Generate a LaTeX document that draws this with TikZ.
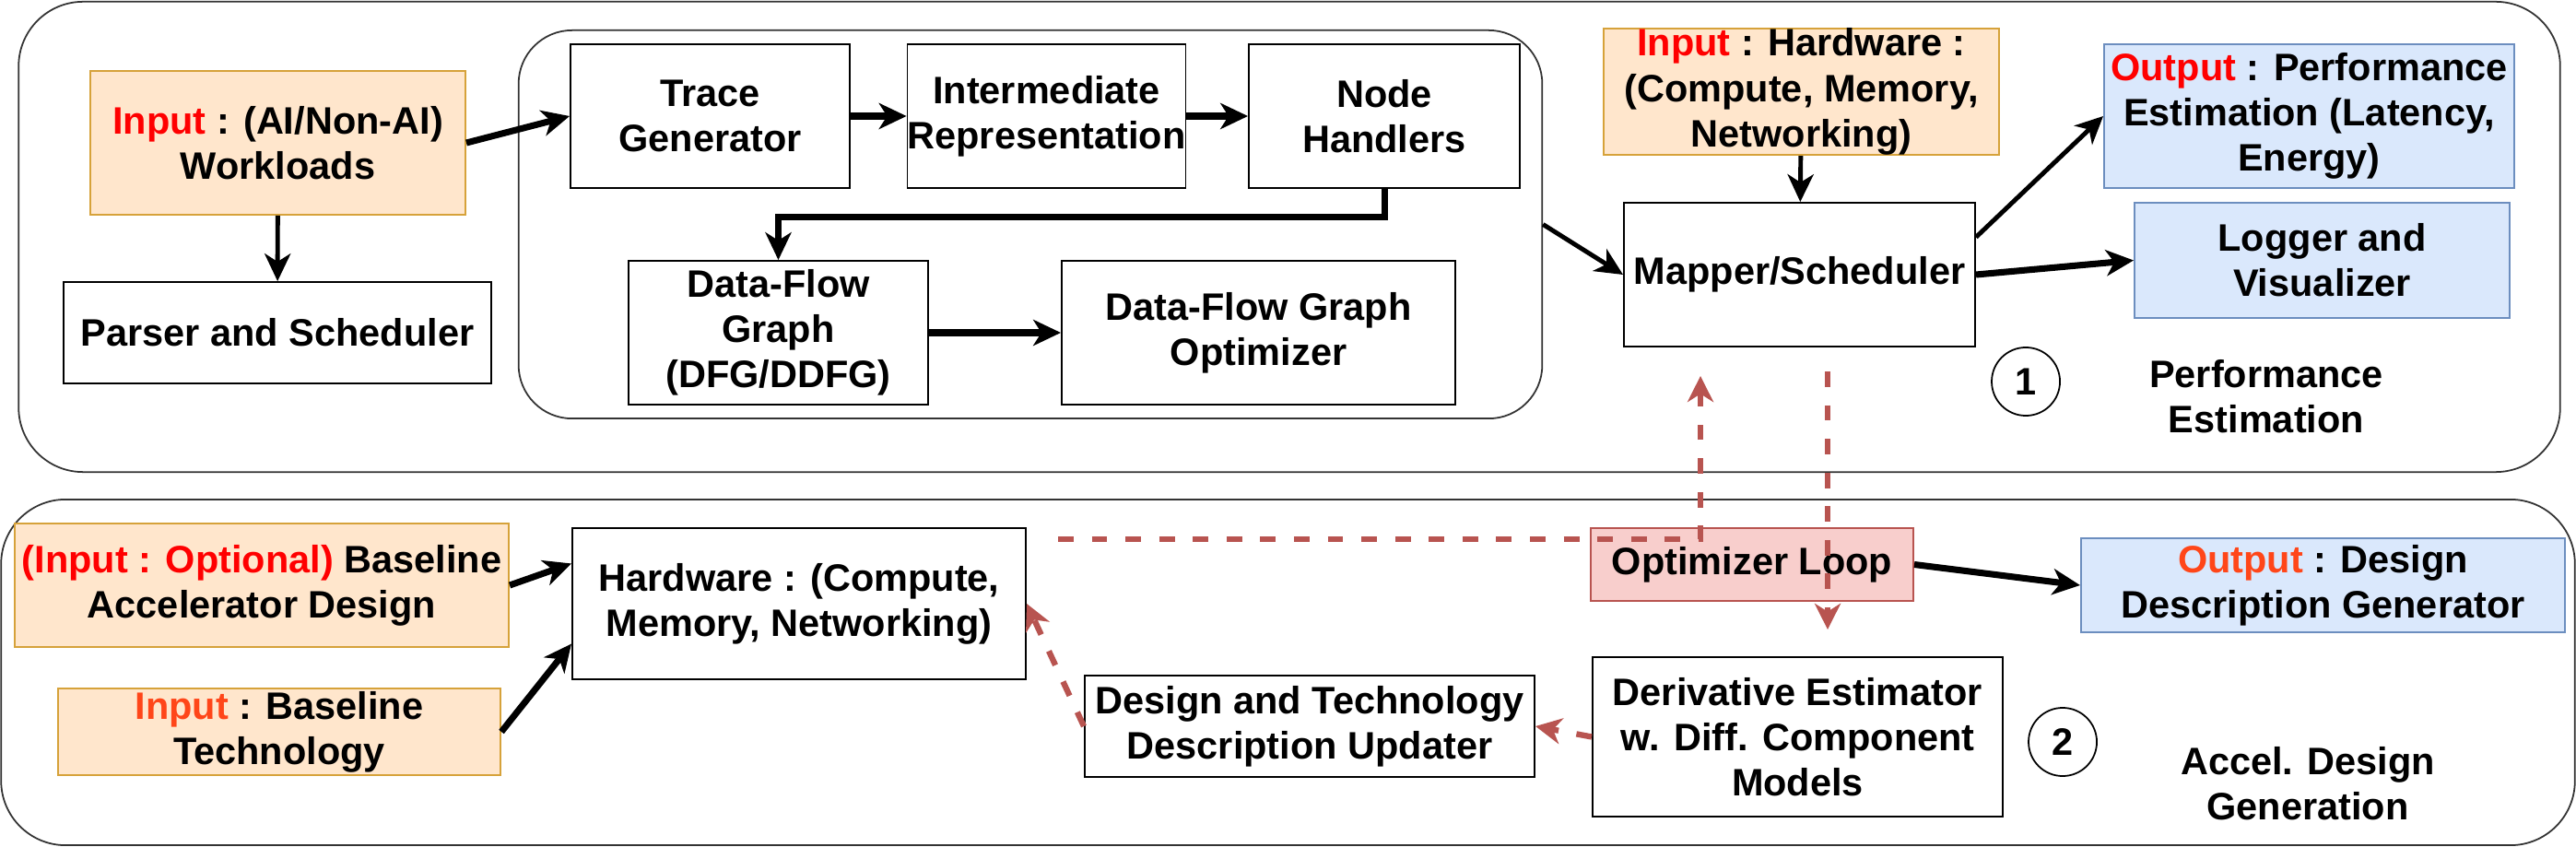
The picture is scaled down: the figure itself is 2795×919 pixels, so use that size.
\documentclass[tikz,border=0pt]{standalone}
\usepackage{fontspec}
\setmainfont{Liberation Sans}
\usepackage{tikz}
\usetikzlibrary{arrows.meta}

\definecolor{inputfill}{HTML}{FFE6CC}
\definecolor{inputline}{HTML}{D6A23A}
\definecolor{outputfill}{HTML}{DAE8FC}
\definecolor{outputline}{HTML}{6C8EBF}
\definecolor{loopfill}{HTML}{F8CECC}
\definecolor{loopline}{HTML}{B85450}
\definecolor{hotred}{HTML}{FF0000}
\definecolor{warmred}{HTML}{FF4619}

\begin{document}
\begin{tikzpicture}[x=0.01cm, y=-0.01cm, font=\bfseries\fontsize{11.8}{14}\selectfont]
        % Setup the style for the boxes
        \tikzset{box style/.style={draw=black,
                                   line width=0.5pt,
                                   fill=white,
                                   inner sep=0pt,
                                   align=center}}
        \tikzset{box style2/.style={box style,
                                    draw=inputline,
                                    fill=inputfill}}
        \tikzset{box style3/.style={box style,
                                    draw=outputline,
                                    fill=outputfill}}
        \tikzset{box style4/.style={box style,
                                    draw=loopline,
                                    fill=loopfill}}
        \tikzset{frame style/.style={draw=black!80,
                                     line width=0.5pt,
                                     rounded corners=0.7cm,
                                     inner sep=0pt}}
        \tikzset{num style/.style={circle,
                                   draw=black,
                                   line width=0.5pt,
                                   minimum size=0.74cm,
                                   inner sep=0pt}}
        \tikzset{flow tip/.style={-{Stealth[length=8.5pt, width=8pt, inset=2.5pt]}}}
        \tikzset{loop style/.style={draw=loopline,
                                    line width=1.8pt,
                                    dash pattern=on 4.8pt off 5.6pt,
                                    -{Stealth[length=8pt, width=8pt, inset=2.5pt]}}}

        \useasboundingbox (0, 0) rectangle (2795, 919);

        % Draw the frames
        \node[frame style, minimum width=27.56cm, minimum height=5.10cm] at (1399, 257) (perfframe) {};
        \node[frame style, minimum width=27.91cm, minimum height=3.75cm] at (1397.5, 729.5) (accelframe) {};
        \node[frame style, rounded corners=0.58cm, minimum width=11.10cm, minimum height=4.21cm] at (1118, 243.5) (core) {};

        % Draw the boxes
        \node[box style2, minimum width=4.07cm, minimum height=1.56cm] at (301.5, 155) (work) {{\color{hotred}Input} : (AI/Non-AI)\\Workloads};
        \node[box style, minimum width=4.64cm, minimum height=1.10cm] at (301, 361) (parser) {Parser and Scheduler};
        \node[box style, minimum width=3.03cm, minimum height=1.56cm] at (770.5, 126) (trace) {Trace\\Generator};
        \node[box style, minimum width=2.97cm, minimum height=1.56cm] at (1135.5, 126) (ir) {Intermediate\\Representation};
        \node[box style, minimum width=2.94cm, minimum height=1.56cm] at (1502, 126) (handlers) {Node\\Handlers};
        \node[box style, minimum width=3.25cm, minimum height=1.56cm] at (844.5, 361) (dfg) {Data-Flow\\Graph\\(DFG/DDFG)};
        \node[box style, minimum width=4.27cm, minimum height=1.56cm] at (1365.5, 361) (dfgopt) {Data-Flow Graph\\Optimizer};
        \node[box style2, minimum width=4.29cm, minimum height=1.35cm] at (1954.5, 99.5) (hwin) {{\color{hotred}Input} : Hardware :\\(Compute, Memory,\\Networking)};
        \node[box style, minimum width=3.81cm, minimum height=1.56cm] at (1952.5, 298) (mapper) {Mapper/Scheduler};
        \node[box style3, minimum width=4.45cm, minimum height=1.56cm] at (2505.5, 126) (perf) {{\color{hotred}Output} : Performance\\Estimation (Latency,\\Energy)};
        \node[box style3, minimum width=4.07cm, minimum height=1.25cm] at (2519.5, 282.5) (logger) {Logger and\\Visualizer};
        \node[num style] at (2198, 414) (one) {1};
        \node[align=center] at (2459, 430) (perflabel) {Performance\\Estimation};

        \node[box style2, minimum width=5.36cm, minimum height=1.34cm] at (284, 635) (accel) {{\color{hotred}(Input : Optional)} Baseline\\Accelerator Design};
        \node[box style2, minimum width=4.80cm, minimum height=0.94cm] at (303, 794) (tech) {{\color{warmred}Input} : Baseline\\Technology};
        \node[box style, minimum width=4.92cm, minimum height=1.64cm] at (867, 655) (hw) {Hardware : (Compute,\\Memory, Networking)};
        \node[box style, minimum width=4.88cm, minimum height=1.10cm] at (1421, 788) (updater) {Design and Technology\\Description Updater};
        \node[box style4, minimum width=3.50cm, minimum height=0.79cm] at (1901, 612.5) (optloop) {Optimizer Loop};
        \node[box style, minimum width=4.45cm, minimum height=1.73cm] at (1950.5, 799.5) (deriv) {Derivative Estimator\\w. Diff. Component\\Models};
        \node[box style3, minimum width=5.25cm, minimum height=1.02cm] at (2520.5, 635) (design) {{\color{warmred}Output} : Design\\Description Generator};
        \node[num style] at (2238, 805) (two) {2};
        \node[align=center] at (2504, 850) (accellabel) {Accel. Design\\Generation};

        % Connect the boxes with arrows
        \draw[line width=2pt,
              draw=black]
            (work.east)     edge[flow tip]            (trace.west)
            (trace)         edge[flow tip]            (ir)
            (ir)            edge[flow tip]            (handlers)
            (dfg)           edge[flow tip]            (dfgopt)
            (mapper.east)   edge[flow tip]            (logger.west)
            (accel.east)    edge[flow tip]            (hw.170)
            (tech.east)     edge[flow tip]            (hw.190)
            (optloop.east)  edge[flow tip]            (design.west);
        \draw[line width=1.4pt,
              draw=black]
            (work)          edge[flow tip]            (parser)
            (hwin)          edge[flow tip]            (mapper)
            (core.east)     edge[flow tip]            (mapper.west)
            (mapper.12)     edge[flow tip]            (perf.west);
        \draw[line width=2pt, flow tip]
            (handlers.south) -- ++(0, 31) -| (dfg.north);

        % Optimizer loop
        \coordinate (loopstart) at (1148, 585);
        \coordinate (loopup) at (1845, 408);
        \coordinate (loopdown) at (1983, 403);
        \coordinate (loopend) at (1983, 683);
        \draw[loop style] (loopstart) -| (loopup);
        \draw[loop style] (loopdown) -- (loopend);
        \draw[loop style] (deriv.west) -- (updater.east);
        \draw[loop style] (updater.west) -- (hw.east);
\end{tikzpicture}
\end{document}
